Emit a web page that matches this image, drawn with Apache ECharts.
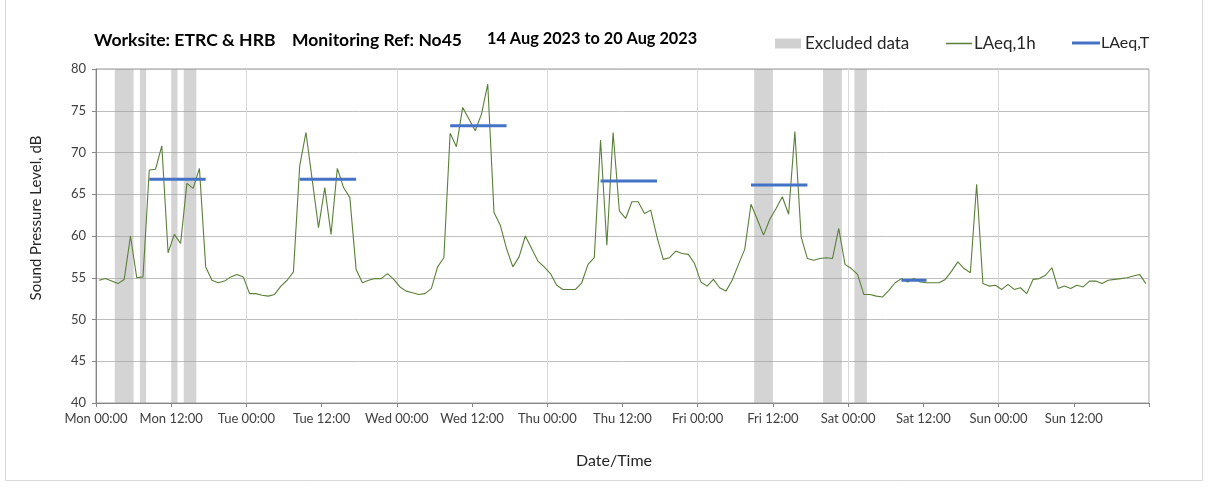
<!DOCTYPE html>
<html>
<head>
<meta charset="utf-8">
<script src="https://cdn.jsdelivr.net/npm/echarts@6/dist/echarts.min.js"></script>
<style>
html,body{margin:0;padding:0;background:#fff;}
#chart{width:1208px;height:494px;}
</style>
</head>
<body>
<div id="chart"></div>
<script>
// ---- Data ----
const tickLabels = ["Mon 00:00","Mon 12:00","Tue 00:00","Tue 12:00","Wed 00:00","Wed 12:00","Thu 00:00","Thu 12:00","Fri 00:00","Fri 12:00","Sat 00:00","Sat 12:00","Sun 00:00","Sun 12:00",""];
// hourly LAeq,1h values, hour 0 = Mon 00:00
const laeq1h = [
54.7,54.9,54.6,54.3,54.8,60.0,55.0,55.1,67.9,68.0,70.8,58.0,60.2,59.1,66.3,65.7,68.1,56.3,54.7,54.4,54.6,55.1,55.4,55.1,
53.1,53.1,52.9,52.8,53.0,54.0,54.7,55.7,68.4,72.4,66.7,61.0,65.8,60.2,68.1,65.8,64.6,56.0,54.4,54.7,54.9,54.9,55.5,54.8,
53.9,53.4,53.2,53.0,53.1,53.7,56.3,57.4,72.3,70.7,75.4,74.0,72.6,74.6,78.2,62.8,61.3,58.5,56.3,57.5,60.0,58.5,57.0,56.3,
55.5,54.1,53.6,53.6,53.6,54.4,56.6,57.4,71.5,58.9,72.4,63.0,62.1,64.1,64.1,62.7,63.1,59.9,57.2,57.4,58.2,57.9,57.8,56.7,
54.5,54.0,54.8,53.8,53.4,54.7,56.6,58.4,63.8,62.0,60.1,62.0,63.3,64.7,62.6,72.5,59.9,57.3,57.1,57.3,57.4,57.3,60.9,56.6,
56.1,55.4,53.0,53.0,52.8,52.7,53.5,54.4,54.9,54.5,54.9,54.5,54.4,54.4,54.4,54.8,55.8,56.9,56.1,55.6,66.2,54.3,54.0,54.1,
53.6,54.2,53.6,53.8,53.1,54.8,54.9,55.3,56.2,53.7,54.0,53.7,54.1,53.9,54.6,54.6,54.3,54.7,54.8,54.9,55.0,55.2,55.4,54.3
];
// LAeq,T periods (start hour, end hour, level)
const periodStart = [8, 32, 56, 80, 104, 128];
const periodEnd   = [17, 41, 65, 89, 113, 132];
const periodLAeq  = [66.8, 66.8, 73.2, 66.6, 66.1, 54.7];
// Excluded data bands (start hour, end hour)
const excludedStart = [3, 7, 12, 14, 105, 116, 121];
const excludedEnd   = [6, 8, 13, 16, 108, 119, 123];

const HALF = 0.5; // hourly values plotted at mid-hour

const lineData = laeq1h.map((v, i) => [i + HALF, v]);
const periodData = [];
periodStart.forEach((s, i) => {
  periodData.push([s + HALF, periodLAeq[i]]);
  periodData.push([periodEnd[i] + HALF, periodLAeq[i]]);
  periodData.push(['-', '-']);
});
const bandData = excludedStart.map((s, i) => [{xAxis: s}, {xAxis: excludedEnd[i]}]);

const FONT = 'Lato';
const titleStyle = {fontSize: 17, fontWeight: 'bold', color: '#000', fontFamily: FONT};
const legendText = {fontSize: 17, color: '#262626', fontFamily: FONT};
const chart = echarts.init(document.getElementById('chart'), null, {renderer: 'canvas'});
chart.setOption({
  animation: false,
  backgroundColor: '#fff',
  textStyle: {fontFamily: FONT},
  title: [
    {text: 'Worksite: ETRC & HRB', left: 94, top: 31, padding: 0, textStyle: Object.assign({}, titleStyle, {fontSize: 17.6})},
    {text: 'Monitoring Ref: No45', left: 292, top: 31, padding: 0, textStyle: Object.assign({}, titleStyle, {fontSize: 17.5})},
    {text: '14 Aug 2023 to 20 Aug 2023', left: 487, top: 31, padding: 0, textStyle: Object.assign({}, titleStyle, {fontSize: 16.3})}
  ],
  legend: [
    {data: [{name: 'Excluded data', icon: 'rect'}], left: 775, top: 35, padding: 0, itemWidth: 26, itemHeight: 10, itemGap: 4,
     textStyle: Object.assign({padding: [0,0,0,-1]}, legendText)},
    {data: [{name: 'LAeq,1h', icon: 'rect'}], left: 946, top: 35, padding: 0, itemWidth: 26, itemHeight: 1.5,
     textStyle: Object.assign({padding: [0,0,0,-3]}, legendText)},
    {data: [{name: 'LAeq,T', icon: 'rect'}], left: 1072, top: 35, padding: 0, itemWidth: 28, itemHeight: 3,
     textStyle: Object.assign({padding: [0,0,0,-4]}, legendText, {fontSize: 16})}
  ],
  grid: {left: 96, right: 59, top: 69, bottom: 91, show: true, borderColor: '#9a9a9a', borderWidth: 1,
         containLabel: false, outerBoundsMode: 'none'},
  xAxis: [
    {
      type: 'value', min: 0, max: 168, interval: 12,
      name: 'Date/Time', nameLocation: 'middle', nameGap: 50,
      nameTextStyle: {fontSize: 16, color: '#262626', fontFamily: FONT, padding: [0,17,0,0]},
      axisLine: {show: true, lineStyle: {color: '#868686'}},
      axisTick: {show: true, length: 4, lineStyle: {color: '#868686'}},
      axisLabel: {margin: 9, fontSize: 13, color: '#404040', fontFamily: FONT,
        formatter: (v) => tickLabels[Math.round(v / 12)] || ''},
      splitLine: {show: false}
    },
    {
      type: 'value', min: 0, max: 168, interval: 24, position: 'bottom',
      axisLine: {show: false}, axisTick: {show: false}, axisLabel: {show: false},
      splitLine: {show: true, lineStyle: {color: '#d9d9d9', width: 1}}
    }
  ],
  yAxis: {
    type: 'value', min: 40, max: 80, interval: 5,
    name: 'Sound Pressure Level, dB', nameLocation: 'middle', nameGap: 52,
    nameTextStyle: {fontSize: 15, color: '#262626', fontFamily: FONT, padding: [0,0,0,36]},
    axisLine: {show: true, lineStyle: {color: '#868686'}},
    axisTick: {show: true, length: 4, lineStyle: {color: '#868686'}},
    axisLabel: {margin: 10, fontSize: 13, color: '#404040', fontFamily: FONT},
    splitLine: {show: true, lineStyle: {color: '#bfbfbf', width: 1}}
  },
  series: [
    {
      name: 'Excluded data', type: 'line', data: [], xAxisIndex: 0,
      itemStyle: {color: '#d0d0d0'}, lineStyle: {color: '#d0d0d0'},
      markArea: {silent: true, itemStyle: {color: 'rgba(160,160,160,0.45)'}, data: bandData},
      z: 1
    },
    {
      name: 'LAeq,1h', type: 'line', data: lineData, xAxisIndex: 0,
      showSymbol: false, symbol: 'none',
      lineStyle: {color: '#5b7f3a', width: 1.1}, itemStyle: {color: '#5b7f3a'},
      z: 3
    },
    {
      name: 'LAeq,T', type: 'line', data: periodData, xAxisIndex: 0,
      showSymbol: false, symbol: 'none', connectNulls: false,
      lineStyle: {color: '#4472c4', width: 3}, itemStyle: {color: '#4472c4'},
      z: 4
    }
  ],
  graphic: [
    {type: 'rect', shape: {x: 5.5, y: -2, width: 1197, height: 482.5}, style: {fill: 'none', stroke: '#d9d9d9', lineWidth: 1}, silent: true}
  ]
});
</script>
</body>
</html>
